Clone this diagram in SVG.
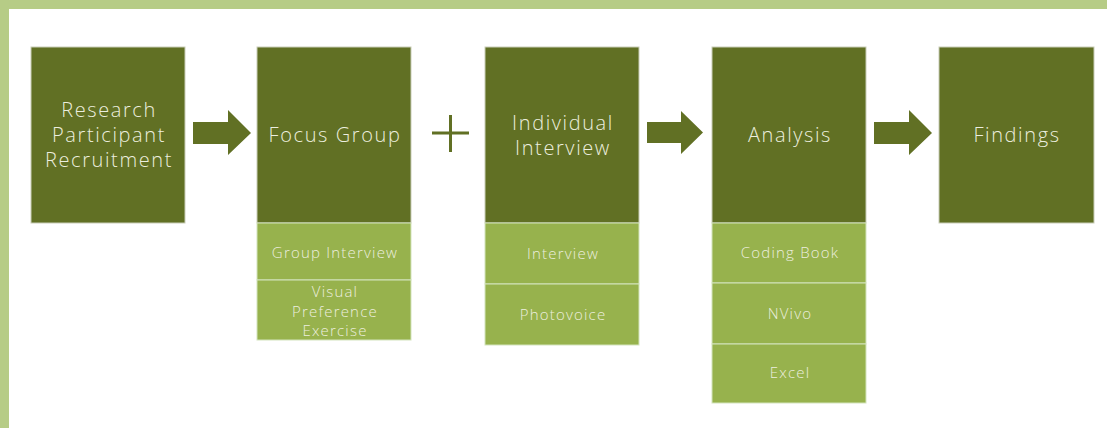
<svg xmlns="http://www.w3.org/2000/svg" width="1107" height="428" viewBox="0 0 1107 428">
<defs>
<style>
.main{fill:#617024;stroke:#c9cdb8;stroke-width:1}
.sub{fill:#97b24d;stroke:#d3e4bd;stroke-width:1}
.arrow{fill:#617024}
.t{font-family:"Open Sans","Liberation Sans",sans-serif;font-weight:300;fill:#eceedf;text-anchor:middle}
.tm{font-size:20px;letter-spacing:1.6px}
.ts{font-size:15px;letter-spacing:1.2px}
</style>
</defs>
<rect x="0" y="0" width="1107" height="428" fill="#ffffff"/>
<rect x="0" y="0" width="1107" height="9" fill="#b6cc86"/>
<rect x="0" y="0" width="9" height="428" fill="#b6cc86"/>
<g id="connectors">
<polygon class="arrow" points="193,122 228,122 228,110 251,133 228,155 228,144 193,144"/>
<path d="M432,133 H469 M450.5,115 V152" stroke="#617024" stroke-width="3" fill="none"/>
<polygon class="arrow" points="647,122 681,122 681,111 703,132.5 681,154 681,143 647,143"/>
<polygon class="arrow" points="874,122 909,122 909,110 932,133 909,155 909,144 874,144"/>
</g>
<g id="node-recruitment">
<rect class="main" x="31" y="47" width="154" height="176"/>
<text class="t tm" x="109" y="117">Research</text>
<text class="t tm" x="109" y="142">Participant</text>
<text class="t tm" x="109" y="167">Recruitment</text>
</g>
<g id="node-focus-group">
<rect class="main" x="257" y="47" width="154" height="176"/>
<text class="t tm" x="335" y="142">Focus Group</text>
</g>
<g id="node-group-interview">
<rect class="sub" x="257" y="223" width="154" height="57"/>
<text class="t ts" x="335" y="258">Group Interview</text>
</g>
<g id="node-visual-preference">
<rect class="sub" x="257" y="280" width="154" height="60"/>
<text class="t ts" x="335" y="297">Visual</text>
<text class="t ts" x="335" y="317">Preference</text>
<text class="t ts" x="335" y="336">Exercise</text>
</g>
<g id="node-individual-interview">
<rect class="main" x="485" y="47" width="154" height="176"/>
<text class="t tm" x="563" y="130">Individual</text>
<text class="t tm" x="563" y="155">Interview</text>
</g>
<g id="node-interview">
<rect class="sub" x="485" y="223" width="154" height="61"/>
<text class="t ts" x="563" y="259">Interview</text>
</g>
<g id="node-photovoice">
<rect class="sub" x="485" y="284" width="154" height="61"/>
<text class="t ts" x="563" y="320">Photovoice</text>
</g>
<g id="node-analysis">
<rect class="main" x="712" y="47" width="154" height="176"/>
<text class="t tm" x="790" y="142">Analysis</text>
</g>
<g id="node-coding-book">
<rect class="sub" x="712" y="223" width="154" height="60"/>
<text class="t ts" x="790" y="258">Coding Book</text>
</g>
<g id="node-nvivo">
<rect class="sub" x="712" y="283" width="154" height="61"/>
<text class="t ts" x="790" y="319">NVivo</text>
</g>
<g id="node-excel">
<rect class="sub" x="712" y="344" width="154" height="59"/>
<text class="t ts" x="790" y="378">Excel</text>
</g>
<g id="node-findings">
<rect class="main" x="939" y="47" width="155" height="176"/>
<text class="t tm" x="1017" y="142">Findings</text>
</g>
</svg>
